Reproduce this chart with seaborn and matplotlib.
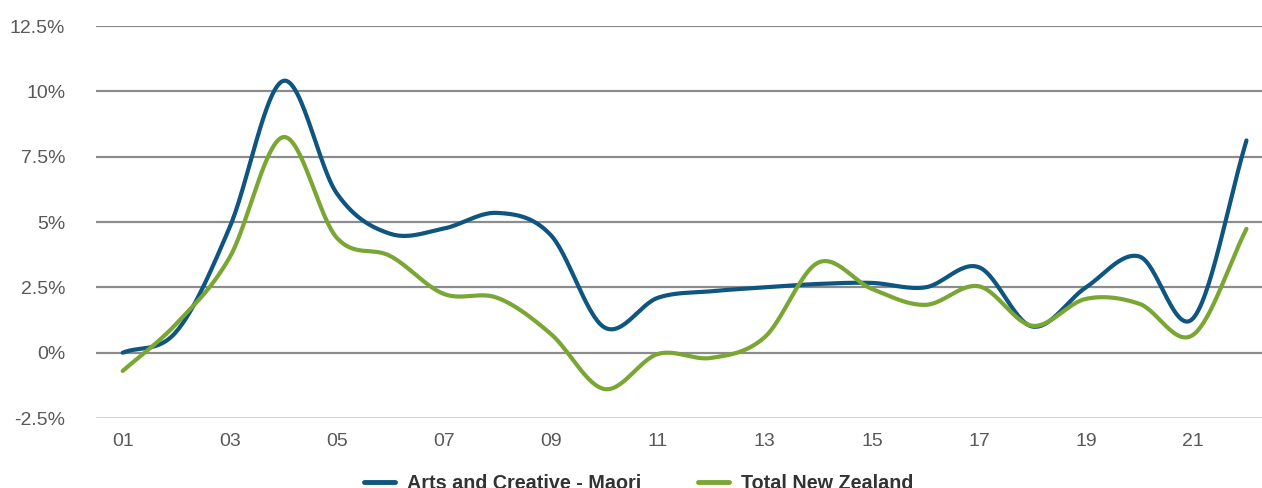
import numpy as np
import pandas as pd
import matplotlib
matplotlib.use("Agg")
import matplotlib.pyplot as plt
import seaborn as sns

# Datos anuales (variacion %)
years = list(range(1, 23))
arts_maori = [0.0, 0.8, 4.8, 10.4, 6.1, 4.55, 4.75, 5.35, 4.5, 0.97, 2.1,
              2.35, 2.5, 2.63, 2.67, 2.5, 3.27, 1.0, 2.5, 3.68, 1.31, 8.12]
total_nz = [-0.7, 1.1, 3.65, 8.25, 4.4, 3.7, 2.25, 2.1, 0.72, -1.39, -0.05,
            -0.2, 0.6, 3.45, 2.44, 1.83, 2.54, 1.03, 2.06, 1.87, 0.68, 4.74]
tick_years = list(range(1, 23, 2))
tick_labels = [f"{y:02d}" for y in tick_years]
y_ticks = [-2.5, 0, 2.5, 5, 7.5, 10, 12.5]
y_labels = ["-2.5%", "0%", "2.5%", "5%", "7.5%", "10%", "12.5%"]

series_names = ["Arts and Creative - Maori", "Total New Zealand"]
colores = ["#0e5580", "#7aa633"]


# Suavizado tipo Excel (Catmull-Rom)
def suavizar(x, y, n=30):
    x = np.asarray(x, float)
    y = np.asarray(y, float)
    px = np.concatenate([[2 * x[0] - x[1]], x, [2 * x[-1] - x[-2]]])
    py = np.concatenate([[2 * y[0] - y[1]], y, [2 * y[-1] - y[-2]]])
    xs, ys = [], []
    t = np.linspace(0, 1, n, endpoint=False)
    for i in range(1, len(px) - 2):
        for arr, out in ((px, xs), (py, ys)):
            p0, p1, p2, p3 = arr[i - 1], arr[i], arr[i + 1], arr[i + 2]
            out.extend(0.5 * ((2 * p1) + (-p0 + p2) * t
                              + (2 * p0 - 5 * p1 + 4 * p2 - p3) * t ** 2
                              + (-p0 + 3 * p1 - 3 * p2 + p3) * t ** 3))
    xs.append(x[-1])
    ys.append(y[-1])
    return np.array(xs), np.array(ys)


frames = []
for name, vals in zip(series_names, [arts_maori, total_nz]):
    sx, sy = suavizar(years, vals)
    frames.append(pd.DataFrame({"year": sx, "value": sy, "serie": name}))
data = pd.concat(frames, ignore_index=True)

sns.set_style("white")
plt.rcParams["font.family"] = ["Liberation Sans", "DejaVu Sans"]

fig = plt.figure(figsize=(12.62, 4.88), dpi=100)
ax = fig.add_axes([0.076, 0.1434, 0.924, 0.8033])

for y in y_ticks[1:]:
    ax.axhline(y, color="#8c8c8c", lw=1.6, zorder=0)
ax.axhline(-2.5, color="#c5cde0", lw=2, zorder=0)

sns.lineplot(data=data, x="year", y="value", hue="serie", palette=colores,
             hue_order=series_names, linewidth=3, ax=ax, sort=False,
             estimator=None, legend=False)

ax.set_xlim(0.5, 22.29)
ax.set_ylim(-2.5, 12.5)
ax.set_xticks(tick_years)
ax.set_xticklabels(tick_labels)
ax.set_yticks(y_ticks)
ax.set_yticklabels(y_labels)
ax.tick_params(axis="both", length=0, labelsize=14, labelcolor="#595959")
ax.tick_params(axis="x", pad=11)
ax.tick_params(axis="y", pad=22)
ax.set_xlabel("")
ax.set_ylabel("")
sns.despine(ax=ax, left=True, bottom=True)

handles = [plt.Line2D([], [], color=c, lw=3.5) for c in colores]
fig.legend(handles, series_names, loc="center", bbox_to_anchor=(0.506, 0.01),
           ncol=2, frameon=False, handlelength=1.6, handletextpad=0.6,
           columnspacing=2.85, prop={"weight": "bold", "size": 14.2},
           labelcolor="#333333")

fig.savefig("out.png", dpi=100)
